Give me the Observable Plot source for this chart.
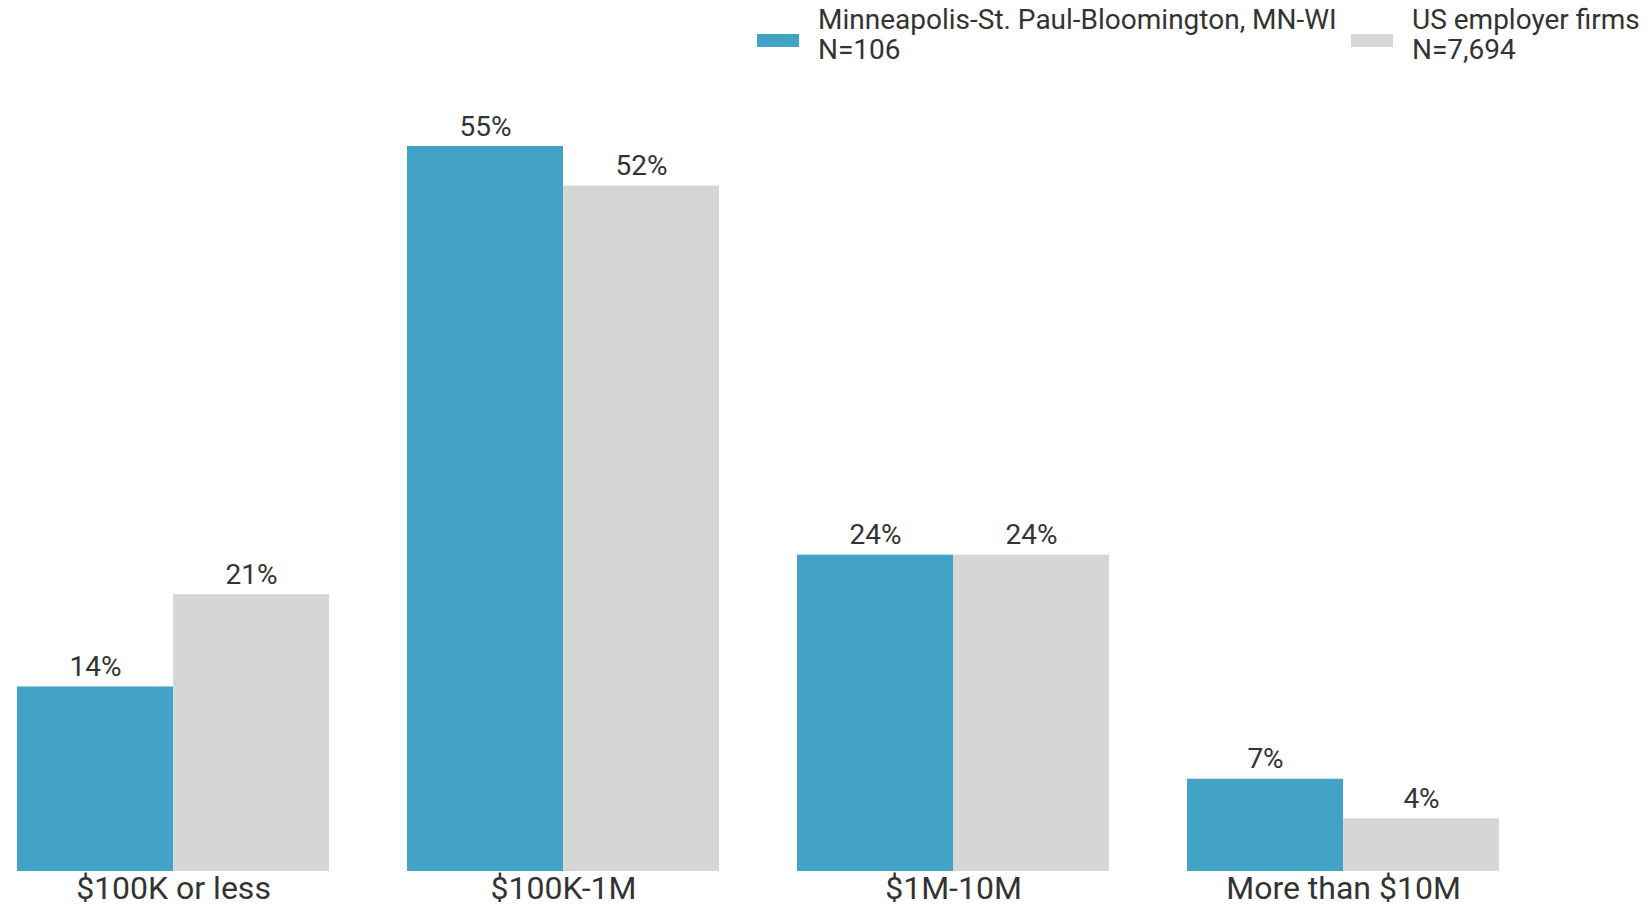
<!DOCTYPE html>
<html>
<head>
<meta charset="utf-8">
<script src="https://cdn.jsdelivr.net/npm/d3@7"></script>
<script src="https://cdn.jsdelivr.net/npm/@observablehq/plot@0.6"></script>
<style>
  html, body { margin: 0; padding: 0; background: #fff; }
  #wrap { position: relative; width: 1650px; height: 909px; font-family: Roboto, sans-serif; color: #333; }
  #legend { position: absolute; top: 5px; left: 0; width: 1650px; height: 70px; }
  .item { position: absolute; top: 0; display: flex; align-items: flex-start; }
  .sw { width: 42px; height: 13px; margin-right: 19px; margin-top: 29px; }
  .lab { font-size: 28px; line-height: 30px; white-space: nowrap; }
</style>
</head>
<body>
<div id="wrap">
  <div id="chart"></div>
  <div id="legend"></div>
</div>
<script>
const categories = ["$100K or less", "$100K-1M", "$1M-10M", "More than $10M"];
const seriesNames = ["Minneapolis-St. Paul-Bloomington, MN-WI", "US employer firms"];
const seriesN = ["N=106", "N=7,694"];
const minneapolisValues = [14, 55, 24, 7];
const usValues = [21, 52, 24, 4];
const colors = ["#43a3c7", "#d6d6d6"];

const rows = [];
categories.forEach((c, i) => {
  rows.push({category: c, series: seriesNames[0], value: minneapolisValues[i]});
  rows.push({category: c, series: seriesNames[1], value: usValues[i]});
});

const chart = Plot.plot({
  width: 1650,
  height: 909,
  marginLeft: 15,
  marginRight: 150,
  marginTop: 146,
  marginBottom: 38,
  style: {fontFamily: "Roboto, sans-serif", background: "#fff", color: "#333"},
  fx: {domain: categories, paddingInner: 0.2, paddingOuter: 0, label: null},
  x: {domain: seriesNames, padding: 0, axis: null},
  y: {domain: [0, 55], axis: null},
  color: {domain: seriesNames, range: colors},
  marks: [
    Plot.barY(rows, {fx: "category", x: "series", y: "value", fill: "series", inset: 0}),
    Plot.text(rows, {fx: "category", x: "series", y: "value", text: d => d.value + "%", dy: -11, lineAnchor: "bottom", fontSize: 28, fill: "#333"}),
    Plot.axisFx({anchor: "bottom", tickSize: 0, tickPadding: 5, fontSize: 32, label: null, fill: "#333"})
  ]
});
document.getElementById("chart").appendChild(chart);

const legend = document.getElementById("legend");
const lefts = [757, 1351];
seriesNames.forEach((s, i) => {
  const item = document.createElement("div");
  item.className = "item";
  item.style.left = lefts[i] + "px";
  const sw = document.createElement("div");
  sw.className = "sw";
  sw.style.background = colors[i];
  const lab = document.createElement("div");
  lab.className = "lab";
  lab.innerHTML = s + "<br>" + seriesN[i];
  item.appendChild(sw);
  item.appendChild(lab);
  legend.appendChild(item);
});
</script>
</body>
</html>
